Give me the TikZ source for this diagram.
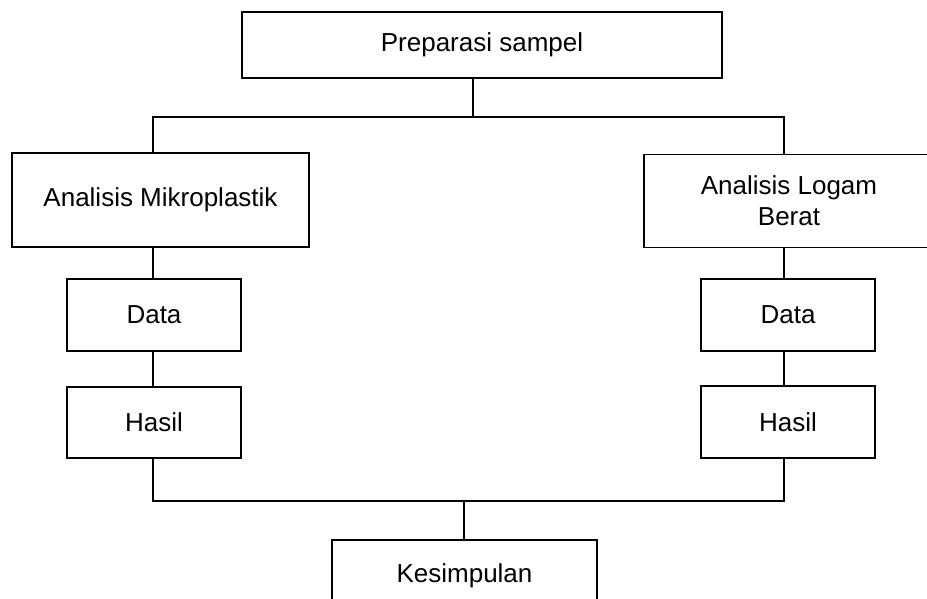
\documentclass[tikz,border=0pt]{standalone}
\usepackage{fontspec}
\setmainfont{Liberation Sans}
\usepackage{tikz}
\usetikzlibrary{calc}
\tikzset{
  kotak/.style={draw=black,line width=1.3pt,inner sep=0pt,outer sep=0pt,align=center,
    font=\fontsize{26}{31}\selectfont},
  garis/.style={line width=1.2pt,black}
}

\begin{document}
\begin{tikzpicture}[x=1pt,y=-1pt]
\clip (0,0) rectangle (927,599);
\coordinate (split) at (473,117);
\coordinate (join) at (464,501);
\coordinate (colL) at (153,0);
\coordinate (colR) at (784,0);
\node[kotak,minimum width=480pt,minimum height=66pt] (prep) at (482,45) {Preparasi sampel};
\node[kotak,minimum width=297pt,minimum height=94pt] (mikro) at (160.5,200) {Analisis Mikroplastik};
\node[kotak,minimum width=290pt,minimum height=93pt] (logam) at (789,201) {Analisis Logam\\Berat};
\node[kotak,minimum width=174pt,minimum height=72pt] (dataL) at (154,315) {Data};
\node[kotak,minimum width=174pt,minimum height=71pt] (hasilL) at (154,422.5) {Hasil};
\node[kotak,minimum width=174pt,minimum height=72pt] (dataR) at (788,315) {Data};
\node[kotak,minimum width=174pt,minimum height=72pt] (hasilR) at (788,422) {Hasil};
\node[kotak,minimum width=265pt,minimum height=72pt] (simpul) at (464.5,576) {Kesimpulan};

\draw[garis] (prep.south -| split) -- (split);
\draw[garis] (colL |- mikro.north) -- (colL |- split) -- (colR |- split) -- (colR |- logam.north);
\draw[garis] (colL |- mikro.south) -- (colL |- dataL.north);
\draw[garis] (colL |- dataL.south) -- (colL |- hasilL.north);
\draw[garis] (colR |- logam.south) -- (colR |- dataR.north);
\draw[garis] (colR |- dataR.south) -- (colR |- hasilR.north);
\draw[garis] (colL |- hasilL.south) -- (colL |- join) -- (colR |- join) -- (colR |- hasilR.south);
\draw[garis] (join) -- (simpul.north -| join);
\end{tikzpicture}
\end{document}
